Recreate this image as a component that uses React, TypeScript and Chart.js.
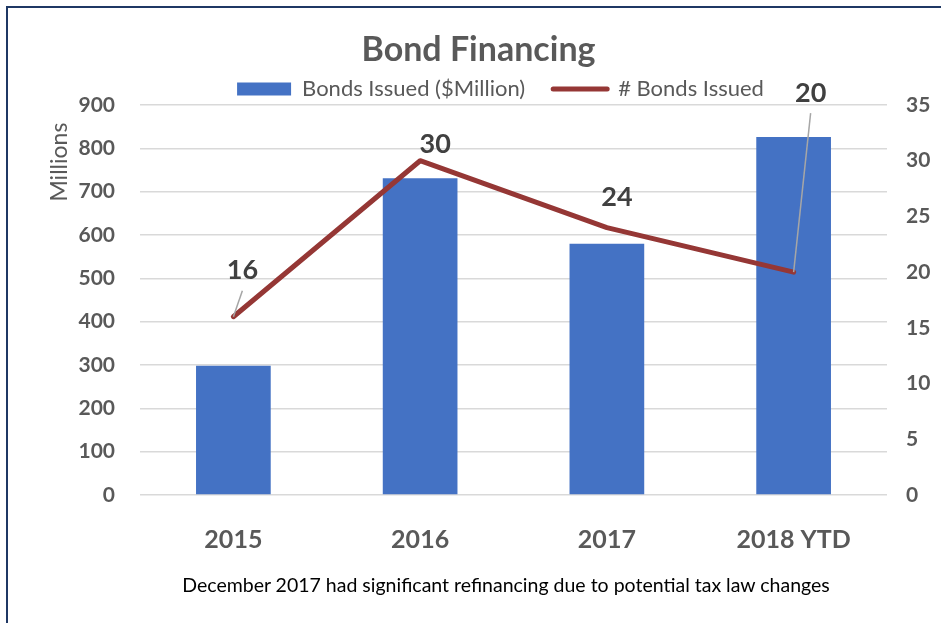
import { useEffect, useRef } from "react";
import { Chart, registerables } from "chart.js";

Chart.register(...registerables);

const years = ["2015", "2016", "2017", "2018 YTD"];
const bondsIssuedMillions = [298, 731, 580, 826];
const bondCounts = [16, 30, 24, 20];

const FONT = "Lato, 'Noto Sans', sans-serif";
const GREY_TEXT = "#595959";

// labels next to the line points, leader lines for the ones placed far away
const pointLabels = {
  id: "pointLabels",
  afterDatasetsDraw(chart: any, _args: any, opts: any) {
    const meta = chart.getDatasetMeta(1);
    const ctx = chart.ctx as CanvasRenderingContext2D;
    ctx.save();
    ctx.font = `bold 27px ${FONT}`;
    ctx.textAlign = "center";
    ctx.textBaseline = "middle";
    meta.data.forEach((pt: any, i: number) => {
      const [dx, dy] = opts.offsets[i];
      const lx = pt.x + dx;
      const ly = pt.y + dy;
      if (opts.leaders[i]) {
        ctx.strokeStyle = "#a6a6a6";
        ctx.lineWidth = 1.5;
        ctx.beginPath();
        ctx.moveTo(lx, ly + 20);
        ctx.lineTo(pt.x, pt.y);
        ctx.stroke();
      }
      ctx.fillStyle = "#404040";
      ctx.fillText(String(bondCounts[i]), lx, ly);
    });
    ctx.restore();
  },
};

// nudge the legend into place (Excel puts it closer to the plot)
const legendNudge = {
  id: "legendNudge",
  afterLayout(chart: any) {
    const lg = chart.legend;
    if (!lg) return;
    lg.top = 50;
    lg.bottom = 105;
    lg.height = 55;
    lg.left += 22;
    lg.right += 22;
  },
};

export default function App() {
  const chartRef = useRef<HTMLCanvasElement>(null);
  const chartInstance = useRef<Chart | null>(null);

  useEffect(() => {
    if (!chartRef.current) return;
    if (chartInstance.current) chartInstance.current.destroy();

    chartInstance.current = new Chart(chartRef.current, {
      type: "bar",
      data: {
        labels: years,
        datasets: [
          {
            type: "bar",
            label: "Bonds Issued ($Million)",
            data: bondsIssuedMillions,
            backgroundColor: "#4472c4",
            yAxisID: "y",
            categoryPercentage: 1,
            barPercentage: 0.4,
            order: 1,
          },
          {
            type: "line",
            label: "# Bonds Issued",
            data: bondCounts,
            borderColor: "#953735",
            backgroundColor: "#953735",
            borderWidth: 5,
            borderCapStyle: "round",
            borderJoinStyle: "round",
            pointRadius: 0,
            tension: 0,
            yAxisID: "y1",
            order: 0,
          },
        ] as any,
      },
      options: {
        responsive: false,
        animation: false,
        events: [],
        layout: { padding: { left: 16, right: 0, top: 0, bottom: 63 } },
        plugins: {
          tooltip: { enabled: false },
          title: {
            display: true,
            text: "Bond Financing",
            color: GREY_TEXT,
            font: { family: FONT, size: 34, weight: "bold" },
            padding: { top: 29.6, bottom: 0 },
          },
          legend: {
            display: true,
            position: "top",
            maxHeight: 34.6,
            labels: {
              usePointStyle: true,
              pointStyleWidth: 54,
              boxHeight: 13,
              padding: 28,
              color: GREY_TEXT,
              font: { family: FONT, size: 22 },
              generateLabels: (chart: any) => {
                const items = Chart.defaults.plugins.legend.labels.generateLabels(chart);
                items.sort((a: any, b: any) => a.datasetIndex - b.datasetIndex);
                return items.map((it: any) =>
                  it.datasetIndex === 1
                    ? { ...it, pointStyle: "line", lineWidth: 5, strokeStyle: "#953735", lineCap: "round" }
                    : { ...it, pointStyle: "rect", lineWidth: 0, fillStyle: "#4472c4", strokeStyle: "#4472c4" }
                );
              },
            },
          },
          pointLabels: {
            offsets: [
              [9, -46],
              [15, -16],
              [10, -30],
              [17, -179],
            ],
            leaders: [true, false, false, true],
          },
        } as any,
        scales: {
          x: {
            grid: { display: false },
            border: { display: false },
            ticks: {
              color: GREY_TEXT,
              font: { family: FONT, size: 25, weight: "bold" },
              padding: 22,
            },
            afterFit: (s: any) => {
              s.height = 65;
            },
          },
          y: {
            position: "left",
            min: 0,
            max: 900,
            ticks: {
              stepSize: 100,
              color: GREY_TEXT,
              font: { family: FONT, size: 21, weight: "bold" },
              padding: 25,
            },
            grid: { color: "#d9d9d9", lineWidth: 1.5, drawTicks: false },
            border: { display: false },
            title: {
              display: true,
              text: "Millions   ",
              align: "end",
              color: GREY_TEXT,
              font: { family: FONT, size: 23 },
              padding: { top: 30 },
            },
            afterFit: (s: any) => {
              s.width = 124;
            },
          },
          y1: {
            position: "right",
            min: 0,
            max: 35,
            ticks: {
              stepSize: 5,
              color: GREY_TEXT,
              font: { family: FONT, size: 21, weight: "bold" },
              padding: 19,
            },
            grid: { display: false, drawTicks: false },
            border: { display: false },
            afterFit: (s: any) => {
              s.width = 54;
            },
          },
        },
      },
      plugins: [pointLabels, legendNudge] as any,
    });

    return () => {
      if (chartInstance.current) {
        chartInstance.current.destroy();
        chartInstance.current = null;
      }
    };
  }, []);

  return (
    <div
      style={{
        position: "fixed",
        left: 0,
        top: 0,
        width: 941,
        height: 623,
        background: "#fff",
        overflow: "hidden",
      }}
    >
      <div
        style={{
          position: "absolute",
          left: 6,
          top: 6,
          width: 1000,
          height: 700,
          borderLeft: "2px solid #1f3864",
          borderTop: "2px solid #1f3864",
        }}
      />
      <canvas ref={chartRef} width={941} height={623} style={{ position: "absolute", left: 0, top: 0 }} />
      <div
        style={{
          position: "absolute",
          left: 506,
          top: 573,
          transform: "translateX(-50%)",
          whiteSpace: "nowrap",
          fontFamily: FONT,
          fontSize: 19.5,
          lineHeight: "24px",
          color: "#000",
        }}
      >
        December 2017 had significant refinancing due to potential tax law changes
      </div>
    </div>
  );
}
